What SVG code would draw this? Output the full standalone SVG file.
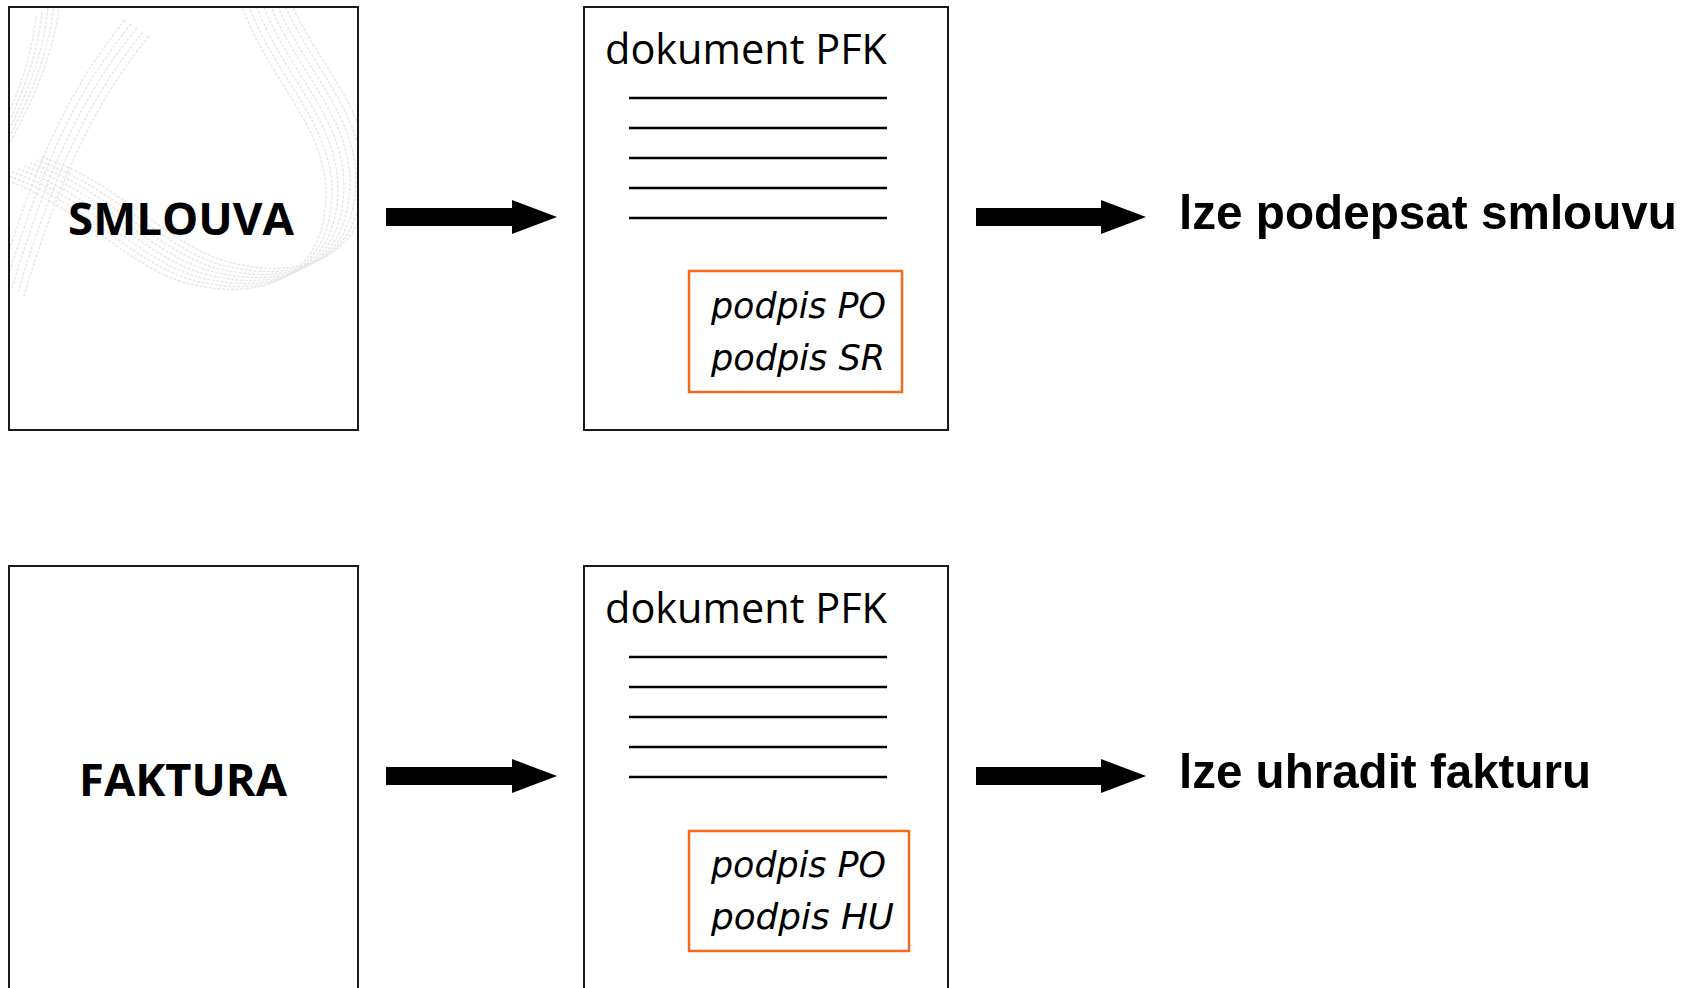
<svg xmlns="http://www.w3.org/2000/svg" width="1699" height="988" viewBox="0 0 1699 988">
  <style>
    .box { fill: #ffffff; stroke: #1a1a1a; stroke-width: 2; }
    .sig { fill: #ffffff; stroke: #F26B1D; stroke-width: 2.5; }
    .rule { stroke: #000000; stroke-width: 2.5; }
    .big { font-family: "Open Sans", "Liberation Sans", sans-serif; font-weight: bold; font-size: 44px; fill: #000; }
    .pfk { font-family: "Open Sans", "Liberation Sans", sans-serif; font-size: 42px; fill: #000; }
    .hand { font-family: "DejaVu Sans", sans-serif; font-style: italic; font-size: 35px; fill: #000; }
    .res { font-family: "Liberation Sans", Arial, sans-serif; font-weight: bold; font-size: 49px; fill: #000; }
    .conn { stroke: #000; stroke-width: 18; fill: none; marker-end: url(#head); }
    .wm { fill: none; stroke: #e6e6e6; stroke-width: 1.4; stroke-dasharray: 3 1.5; }
  </style>
  <defs>
    <marker id="head" markerUnits="userSpaceOnUse" markerWidth="46" markerHeight="36" refX="0" refY="17" orient="auto">
      <path d="M0,0 L45,17 L0,34 Z" fill="#000"/>
    </marker>
    <clipPath id="clip1"><rect x="10" y="8" width="347" height="421"/></clipPath>
    <path id="loop" d="M 240 0 C 265 80, 335 130, 325 210 C 318 275, 265 302, 190 284 C 130 270, 80 205, 0 178"/>
    <path id="bandA" d="M 60 0 C 55 50, 35 100, 0 160"/>
    <path id="bandB" d="M 125 20 C 85 70, 45 130, 0 280"/>
  </defs>

  <g id="smlouva">
    <rect class="box" x="9" y="7" width="349" height="423"/>
    <g clip-path="url(#clip1)">
      <use href="#loop" class="wm" transform="translate(0,0)"/>
      <use href="#loop" class="wm" transform="translate(6,-3)"/>
      <use href="#loop" class="wm" transform="translate(12,-6)"/>
      <use href="#loop" class="wm" transform="translate(18,-9)"/>
      <use href="#loop" class="wm" transform="translate(24,-12)"/>
      <use href="#loop" class="wm" transform="translate(30,-15)"/>
      <use href="#loop" class="wm" transform="translate(36,-18)"/>
      <use href="#loop" class="wm" transform="translate(42,-21)"/>
      <use href="#bandA" class="wm" transform="translate(0,0)"/>
      <use href="#bandA" class="wm" transform="translate(-6,4)"/>
      <use href="#bandA" class="wm" transform="translate(-12,8)"/>
      <use href="#bandA" class="wm" transform="translate(-18,12)"/>
      <use href="#bandA" class="wm" transform="translate(-24,16)"/>
      <use href="#bandB" class="wm" transform="translate(0,0)"/>
      <use href="#bandB" class="wm" transform="translate(6,4)"/>
      <use href="#bandB" class="wm" transform="translate(12,8)"/>
      <use href="#bandB" class="wm" transform="translate(18,12)"/>
      <use href="#bandB" class="wm" transform="translate(24,16)"/>
    </g>
    <text class="big" x="181" y="235" text-anchor="middle" textLength="226" lengthAdjust="spacingAndGlyphs">SMLOUVA</text>
  </g>

  <g id="pfk1">
    <rect class="box" x="584" y="7" width="364" height="423"/>
    <text class="pfk" x="605" y="64" textLength="282" lengthAdjust="spacingAndGlyphs">dokument PFK</text>
    <line class="rule" x1="629" y1="98" x2="887" y2="98"/>
    <line class="rule" x1="629" y1="128" x2="887" y2="128"/>
    <line class="rule" x1="629" y1="158" x2="887" y2="158"/>
    <line class="rule" x1="629" y1="188" x2="887" y2="188"/>
    <line class="rule" x1="629" y1="218" x2="887" y2="218"/>
    <rect class="sig" x="689" y="271" width="213" height="121"/>
    <text class="hand" x="711" y="318" textLength="175" lengthAdjust="spacingAndGlyphs">podpis PO</text>
    <text class="hand" x="711" y="370" textLength="174" lengthAdjust="spacingAndGlyphs">podpis SR</text>
  </g>

  <g id="result1">
    <text class="res" x="1179" y="229" textLength="498" lengthAdjust="spacingAndGlyphs">lze podepsat smlouvu</text>
  </g>

  <g id="faktura">
    <rect class="box" x="9" y="566" width="349" height="423"/>
    <text class="big" x="183" y="796" text-anchor="middle" textLength="208" lengthAdjust="spacingAndGlyphs">FAKTURA</text>
  </g>

  <g id="pfk2">
    <rect class="box" x="584" y="566" width="364" height="423"/>
    <text class="pfk" x="605" y="623" textLength="282" lengthAdjust="spacingAndGlyphs">dokument PFK</text>
    <line class="rule" x1="629" y1="657" x2="887" y2="657"/>
    <line class="rule" x1="629" y1="687" x2="887" y2="687"/>
    <line class="rule" x1="629" y1="717" x2="887" y2="717"/>
    <line class="rule" x1="629" y1="747" x2="887" y2="747"/>
    <line class="rule" x1="629" y1="777" x2="887" y2="777"/>
    <rect class="sig" x="689" y="831" width="220" height="120"/>
    <text class="hand" x="711" y="877" textLength="175" lengthAdjust="spacingAndGlyphs">podpis PO</text>
    <text class="hand" x="711" y="929" textLength="183" lengthAdjust="spacingAndGlyphs">podpis HU</text>
  </g>

  <g id="result2">
    <text class="res" x="1179" y="788" textLength="412" lengthAdjust="spacingAndGlyphs">lze uhradit fakturu</text>
  </g>

  <g id="connectors">
    <line class="conn" x1="386" y1="217" x2="512" y2="217"/>
    <line class="conn" x1="976" y1="217" x2="1101" y2="217"/>
    <line class="conn" x1="386" y1="776" x2="512" y2="776"/>
    <line class="conn" x1="976" y1="776" x2="1101" y2="776"/>
  </g>
</svg>
